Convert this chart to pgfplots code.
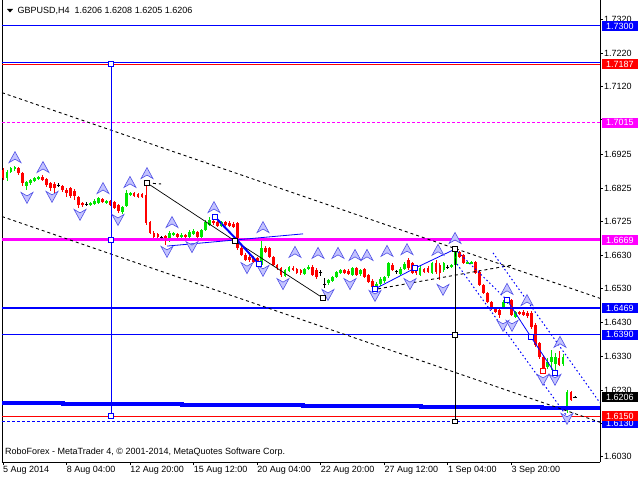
\documentclass[border=0pt]{standalone}
\usepackage{pgfplots}
\pgfplotsset{compat=1.18}
\usepackage{pgfplotstable}
\usepackage{fontspec}
\setmainfont{Liberation Sans}
\definecolor{cgreen}{RGB}{0,230,0}
\definecolor{cred}{RGB}{255,0,0}
\definecolor{cmag}{RGB}{255,0,255}
\definecolor{cblue}{RGB}{0,0,255}
\definecolor{fracfill}{RGB}{195,195,255}
\definecolor{fracdraw}{RGB}{80,80,230}
\pgfdeclareplotmark{fup}{%
  \pgfpathmoveto{\pgfqpoint{0pt}{5.5pt}}%
  \pgfpathlineto{\pgfqpoint{6pt}{-5.5pt}}%
  \pgfpathlineto{\pgfqpoint{0pt}{-2pt}}%
  \pgfpathlineto{\pgfqpoint{-6pt}{-5.5pt}}%
  \pgfpathclose
  \pgfusepathqfillstroke}
\pgfdeclareplotmark{fdown}{%
  \pgfpathmoveto{\pgfqpoint{0pt}{-5.5pt}}%
  \pgfpathlineto{\pgfqpoint{6pt}{5.5pt}}%
  \pgfpathlineto{\pgfqpoint{0pt}{2pt}}%
  \pgfpathlineto{\pgfqpoint{-6pt}{5.5pt}}%
  \pgfpathclose
  \pgfusepathqfillstroke}
\pgfplotsset{
  wick/.style={only marks, mark=*, mark size=0.2pt, color=#1, error bars/y dir=both, error bars/y explicit, error bars/error mark=none,
    error bars/error bar style={line width=0.9pt, #1}},
  body/.style={only marks, mark=*, mark size=0.2pt, color=#1, error bars/y dir=both, error bars/y explicit, error bars/error mark=none,
    error bars/error bar style={line width=2.8pt, #1}},
}
% bull candles: index, open, high, low, close
\pgfplotstableread{
i o h l c
1 1.6852 1.6875 1.6843 1.6869
2 1.6869 1.6884 1.6866 1.6881
3 1.6878 1.6887 1.6872 1.6884
6 1.6828 1.6843 1.6816 1.6840
7 1.6837 1.6849 1.6831 1.6846
8 1.6843 1.6855 1.6840 1.6852
9 1.6849 1.6858 1.6846 1.6855
22 1.6772 1.6781 1.6769 1.6778
23 1.6775 1.6790 1.6772 1.6784
24 1.6778 1.6796 1.6775 1.6793
26 1.6778 1.6787 1.6775 1.6784
30 1.6751 1.6769 1.6746 1.6766
31 1.6769 1.6816 1.6766 1.6808
32 1.6802 1.6810 1.6799 1.6808
42 1.6666 1.6696 1.6663 1.6690
43 1.6684 1.6693 1.6681 1.6690
45 1.6678 1.6690 1.6675 1.6684
47 1.6678 1.6698 1.6675 1.6693
48 1.6687 1.6701 1.6684 1.6696
50 1.6678 1.6701 1.6675 1.6698
51 1.6698 1.6728 1.6696 1.6722
52 1.6713 1.6737 1.6710 1.6728
55 1.6710 1.6725 1.6707 1.6722
65 1.6595 1.6675 1.6592 1.6645
71 1.6563 1.6583 1.6560 1.6581
72 1.6578 1.6592 1.6575 1.6589
76 1.6569 1.6586 1.6566 1.6583
77 1.6583 1.6595 1.6581 1.6589
82 1.6542 1.6554 1.6536 1.6551
83 1.6548 1.6563 1.6545 1.6560
84 1.6560 1.6578 1.6557 1.6575
85 1.6572 1.6583 1.6569 1.6581
88 1.6566 1.6589 1.6563 1.6586
90 1.6569 1.6583 1.6563 1.6581
94 1.6527 1.6545 1.6522 1.6539
95 1.6539 1.6560 1.6533 1.6554
96 1.6548 1.6563 1.6542 1.6560
97 1.6563 1.6604 1.6557 1.6601
100 1.6569 1.6589 1.6566 1.6583
101 1.6583 1.6604 1.6581 1.6598
105 1.6566 1.6592 1.6563 1.6586
108 1.6572 1.6604 1.6569 1.6601
111 1.6581 1.6604 1.6575 1.6601
113 1.6589 1.6598 1.6586 1.6595
114 1.6595 1.6645 1.6592 1.6637
117 1.6601 1.6607 1.6598 1.6604
118 1.6601 1.6607 1.6598 1.6604
126 1.6468 1.6492 1.6466 1.6486
127 1.6483 1.6495 1.6480 1.6492
129 1.6442 1.6460 1.6439 1.6457
137 1.6295 1.6322 1.6289 1.6310
138 1.6310 1.6345 1.6286 1.6325
139 1.6304 1.6336 1.6277 1.6325
141 1.6304 1.6334 1.6298 1.6325
142 1.6168 1.6227 1.6159 1.6221
}\upcandles
% bear candles
\pgfplotstableread{
i o h l c
0 1.6875 1.6881 1.6846 1.6852
4 1.6881 1.6884 1.6861 1.6866
5 1.6866 1.6869 1.6828 1.6837
10 1.6855 1.6861 1.6843 1.6846
11 1.6849 1.6852 1.6825 1.6831
12 1.6837 1.6840 1.6813 1.6822
13 1.6834 1.6840 1.6808 1.6822
15 1.6828 1.6831 1.6810 1.6816
16 1.6816 1.6822 1.6796 1.6808
17 1.6822 1.6825 1.6793 1.6799
18 1.6813 1.6819 1.6787 1.6799
19 1.6796 1.6799 1.6763 1.6772
20 1.6778 1.6781 1.6766 1.6772
25 1.6790 1.6793 1.6778 1.6781
27 1.6784 1.6787 1.6769 1.6772
28 1.6781 1.6784 1.6760 1.6763
29 1.6772 1.6775 1.6749 1.6754
33 1.6808 1.6810 1.6796 1.6799
34 1.6805 1.6808 1.6793 1.6796
35 1.6805 1.6808 1.6793 1.6796
36 1.6802 1.6837 1.6713 1.6719
37 1.6722 1.6725 1.6687 1.6690
38 1.6690 1.6696 1.6675 1.6678
39 1.6687 1.6690 1.6675 1.6678
41 1.6681 1.6684 1.6654 1.6669
44 1.6687 1.6690 1.6675 1.6678
46 1.6684 1.6687 1.6675 1.6678
49 1.6693 1.6696 1.6675 1.6678
53 1.6725 1.6734 1.6713 1.6719
54 1.6722 1.6725 1.6707 1.6710
56 1.6722 1.6725 1.6710 1.6713
57 1.6719 1.6725 1.6707 1.6710
58 1.6716 1.6722 1.6704 1.6707
59 1.6719 1.6722 1.6640 1.6645
60 1.6645 1.6651 1.6622 1.6625
61 1.6625 1.6631 1.6607 1.6610
62 1.6619 1.6625 1.6604 1.6610
63 1.6616 1.6622 1.6601 1.6604
64 1.6616 1.6619 1.6595 1.6601
66 1.6645 1.6651 1.6631 1.6634
67 1.6645 1.6648 1.6616 1.6619
68 1.6619 1.6622 1.6592 1.6595
69 1.6595 1.6598 1.6581 1.6586
70 1.6586 1.6589 1.6560 1.6566
73 1.6586 1.6592 1.6578 1.6581
74 1.6583 1.6586 1.6569 1.6572
75 1.6581 1.6583 1.6566 1.6572
78 1.6589 1.6595 1.6563 1.6566
79 1.6581 1.6586 1.6554 1.6560
86 1.6581 1.6583 1.6569 1.6572
87 1.6578 1.6583 1.6566 1.6569
89 1.6586 1.6589 1.6563 1.6566
91 1.6583 1.6586 1.6557 1.6560
92 1.6566 1.6569 1.6542 1.6545
93 1.6548 1.6554 1.6527 1.6530
98 1.6595 1.6601 1.6578 1.6581
102 1.6610 1.6616 1.6581 1.6586
103 1.6601 1.6604 1.6569 1.6572
104 1.6583 1.6586 1.6566 1.6572
106 1.6583 1.6586 1.6572 1.6575
107 1.6586 1.6592 1.6572 1.6575
109 1.6601 1.6610 1.6569 1.6575
110 1.6595 1.6601 1.6551 1.6572
115 1.6634 1.6637 1.6616 1.6619
116 1.6625 1.6628 1.6598 1.6601
119 1.6604 1.6607 1.6569 1.6572
120 1.6575 1.6581 1.6533 1.6536
121 1.6536 1.6539 1.6510 1.6513
122 1.6513 1.6516 1.6483 1.6486
123 1.6486 1.6489 1.6463 1.6466
124 1.6468 1.6471 1.6454 1.6457
125 1.6463 1.6466 1.6439 1.6448
128 1.6492 1.6495 1.6445 1.6448
130 1.6457 1.6460 1.6448 1.6451
131 1.6457 1.6463 1.6445 1.6448
132 1.6454 1.6460 1.6439 1.6445
133 1.6454 1.6460 1.6407 1.6413
134 1.6419 1.6424 1.6354 1.6360
135 1.6366 1.6369 1.6319 1.6325
136 1.6325 1.6330 1.6283 1.6292
140 1.6322 1.6342 1.6298 1.6301
143 1.6221 1.6224 1.6195 1.6198
}\dncandles
% doji candles
\pgfplotstableread{
i o h l c
14 1.6831 1.6837 1.6825 1.6831
21 1.6775 1.6781 1.6769 1.6775
40 1.6675 1.6681 1.6669 1.6675
80 1.6572 1.6581 1.6563 1.6572
81 1.6539 1.6557 1.6527 1.6539
99 1.6575 1.6581 1.6569 1.6575
112 1.6589 1.6595 1.6583 1.6589
144 1.6206 1.6208 1.6205 1.6206
}\djcandles
\newcommand{\plabel}[3]{\node[anchor=west, xshift=1.5pt, fill=#2, text=white, font=\fontsize{9}{10}\selectfont, inner xsep=1pt, inner ysep=0pt, minimum height=10pt, minimum width=36.5pt, text height=6.6pt, text depth=0pt] at (axis cs:150.3,#1) {#3};}
\begin{document}
\begin{tikzpicture}
\useasboundingbox (0,0) rectangle (640pt,480pt);
\fill[white] (0,0) rectangle (640pt,480pt);
\begin{axis}[
  at={(2pt,18pt)}, anchor=south west,
  width=598pt, height=462pt, scale only axis,
  xmin=-0.252, xmax=150.3, ymin=1.60149, ymax=1.7376,
  clip=false,
  axis x line*=bottom, axis y line*=right,
  axis line style={black, line width=0.8pt},
  tick align=outside, major tick length=3pt,
  tick style={black, line width=0.8pt},
  xtick={0,16,32,48,64,80,96,112,128},
  xticklabels={5 Aug 2014, 8 Aug 04:00, 12 Aug 20:00, 15 Aug 12:00, 20 Aug 04:00, 22 Aug 20:00, 27 Aug 12:00, 1 Sep 04:00, 3 Sep 20:00},
  xticklabel style={font=\fontsize{9}{10}\selectfont, anchor=north west, inner sep=1pt, xshift=-1pt},
  ytick={1.7320,1.7220,1.7120,1.7023,1.6922,1.6822,1.6725,1.6625,1.6525,1.6427,1.6327,1.6227,1.6130,1.6030},
  yticklabels={1.7320,1.7220,1.7120,{},1.6925,1.6825,1.6725,1.6630,1.6530,1.6430,1.6330,1.6230,{},1.6030},
  yticklabel style={font=\fontsize{9}{10}\selectfont, anchor=west, inner sep=1pt},
  minor tick num=0,
]
\draw[black, line width=0.8pt] (rel axis cs:0,0) -- (rel axis cs:0,1);
% candles
\addplot[wick=cgreen] table[x=i, y expr={(\thisrow{h}+\thisrow{l})/2}, y error expr={(\thisrow{h}-\thisrow{l})/2}] {\upcandles};
\addplot[body=cgreen] table[x=i, y expr={(\thisrow{o}+\thisrow{c})/2}, y error expr={(\thisrow{c}-\thisrow{o})/2}] {\upcandles};
\addplot[wick=cred] table[x=i, y expr={(\thisrow{h}+\thisrow{l})/2}, y error expr={(\thisrow{h}-\thisrow{l})/2}] {\dncandles};
\addplot[body=cred] table[x=i, y expr={(\thisrow{o}+\thisrow{c})/2}, y error expr={(\thisrow{o}-\thisrow{c})/2}] {\dncandles};
\addplot[wick=black] table[x=i, y expr={(\thisrow{h}+\thisrow{l})/2}, y error expr={(\thisrow{h}-\thisrow{l})/2}] {\djcandles};
\addplot[only marks, mark=-, mark size=1.6pt, mark options={line width=0.9pt, black}] table[x=i, y=c] {\djcandles};
% horizontal levels
\addplot[cblue, line width=1pt] coordinates {(-0.252,1.7300) (150.3,1.7300)};
\addplot[cblue, line width=1pt] coordinates {(-0.252,1.7191) (150.3,1.7191)};
\addplot[cred, line width=1.6pt] coordinates {(-0.252,1.7186) (150.3,1.7186)};
\addplot[cmag, line width=1pt, dash pattern=on 3pt off 2pt] coordinates {(-0.252,1.7015) (150.3,1.7015)};
\addplot[cmag, line width=3pt] coordinates {(-0.252,1.6669) (150.3,1.6669)};
\addplot[cblue, line width=2.4pt] coordinates {(-0.252,1.6469) (150.3,1.6469)};
\addplot[cblue, line width=1pt] coordinates {(-0.252,1.6390) (150.3,1.6390)};
\addplot[cred, line width=1pt] coordinates {(-0.252,1.6150) (150.3,1.6150)};
\addplot[cblue, line width=1pt, dash pattern=on 3pt off 2pt] coordinates {(-0.252,1.6135) (150.3,1.6135)};
\addplot[cblue, line width=3.5pt, const plot] coordinates {(-0.252,1.6189) (15.11,1.6186) (45.07,1.6183) (75.53,1.6180) (105.24,1.6177) (135.70,1.6174) (150.3,1.6174)};
% channel lines
\addplot[black, line width=0.9pt, dash pattern=on 3pt off 3pt] coordinates {(-0.252,1.7103) (150.3,1.6497)};
\addplot[black, line width=0.9pt, dash pattern=on 3pt off 3pt] coordinates {(-0.252,1.6738) (150.3,1.6132)};
\addplot[black, line width=0.9pt, dash pattern=on 3pt off 3pt] coordinates {(94.41,1.6525) (128.15,1.6595)};
\addplot[black, line width=0.9pt, dash pattern=on 3pt off 3pt] coordinates {(36.25,1.6837) (39.8,1.6834)};
\addplot[cblue, line width=1pt, dash pattern=on 1.5pt off 2.5pt] coordinates {(114.30,1.6598) (142.25,1.6145)};
\addplot[cblue, line width=1pt, dash pattern=on 1.5pt off 2.5pt] coordinates {(123.36,1.6631) (150.3,1.6189)};
\addplot[cblue, line width=1pt, dash pattern=on 1.5pt off 2.5pt] coordinates {(113.80,1.6642) (126.89,1.6492)};
% zigzag lines
\addplot[black, line width=0.7pt] coordinates {(36.25,1.6837) (58.41,1.6666) (80.56,1.6498)};
\addplot[cblue, line width=2pt] coordinates {(53.37,1.6737) (58.91,1.6669) (64.45,1.6598)};
\addplot[cblue, line width=0.8pt] coordinates {(41.29,1.6651) (75.53,1.6687)};
\addplot[cblue, line width=0.8pt] coordinates {(93.66,1.6525) (103.73,1.6586) (113.80,1.6642)};
\addplot[cblue, line width=0.8pt] coordinates {(126.89,1.6492) (132.93,1.6383) (138.97,1.6277)};
% verticals
\addplot[cblue, line width=1pt] coordinates {(27.19,1.7187) (27.19,1.6150)};
\addplot[black, line width=1pt] coordinates {(113.80,1.6642) (113.80,1.6135)};
% fractals
\addplot[only marks, mark=fup, mark options={fill=fracfill, draw=fracdraw, line width=0.6pt}] coordinates {
(3.02,1.6913) (10.07,1.6884) (25.18,1.6822) (31.97,1.6840) (36.25,1.6866) (42.55,1.6722)
(53.12,1.6766) (65.46,1.6707) (73.51,1.6634) (79.31,1.6631) (84.34,1.6631) (88.62,1.6625)
(91.64,1.6625) (96.68,1.6637) (101.71,1.6642) (109.52,1.6640) (113.80,1.6675) (126.89,1.6525)
(131.92,1.6492) (140.23,1.6369)};
\addplot[only marks, mark=fdown, mark options={fill=fracfill, draw=fracdraw, line width=0.6pt}] coordinates {
(6.04,1.6793) (12.34,1.6796) (19.39,1.6743) (28.95,1.6728) (41.29,1.6634) (47.58,1.6648)
(61.43,1.6586) (65.46,1.6578) (70.49,1.6539) (81.82,1.6507) (87.36,1.6539) (93.66,1.6504)
(102.47,1.6539) (110.78,1.6522) (125.88,1.6416) (128.15,1.6416) (135.95,1.6257) (138.97,1.6257)
(141.99,1.6142)};
% pivot squares
\addplot[only marks, mark=square*, mark size=2.3pt, mark options={fill=white, draw=cblue, line width=0.8pt}] coordinates {
(27.19,1.7187) (27.19,1.6669) (27.19,1.6150) (53.37,1.6737) (64.45,1.6598) (93.66,1.6525)
(103.73,1.6586) (126.89,1.6492) (132.93,1.6383) (138.97,1.6277)};
\addplot[only marks, mark=square*, mark size=2.3pt, mark options={fill=white, draw=black, line width=0.8pt}] coordinates {
(36.25,1.6837) (58.41,1.6666) (80.56,1.6498) (113.80,1.6642) (113.80,1.6390) (113.80,1.6135)};
\addplot[only marks, mark=square*, mark size=2.3pt, mark options={fill=white, draw=cred, line width=0.8pt}] coordinates {(135.95,1.6283)};
% price labels
\plabel{1.7300}{cblue}{1.7300}
\plabel{1.7187}{cred}{1.7187}
\plabel{1.7015}{cmag}{1.7015}
\plabel{1.6669}{cmag}{1.6669}
\plabel{1.6469}{cblue}{1.6469}
\plabel{1.6390}{cblue}{1.6390}
\plabel{1.6206}{black}{1.6206}
\plabel{1.6129}{cblue}{1.6130}
\plabel{1.6150}{cred}{1.6150}
\end{axis}
\fill[black] (7pt,471pt) -- (13pt,471pt) -- (10pt,467.5pt) -- cycle;
\node[anchor=west, font=\fontsize{9}{10}\selectfont, inner sep=0pt] at (17.5pt,469.5pt) {GBPUSD,H4\ \ 1.6206 1.6208 1.6205 1.6206};
\node[anchor=west, font=\fontsize{9}{10}\selectfont, inner sep=0pt] at (5pt,28pt) {RoboForex - MetaTrader 4, © 2001-2014, MetaQuotes Software Corp.};
\end{tikzpicture}
\end{document}
